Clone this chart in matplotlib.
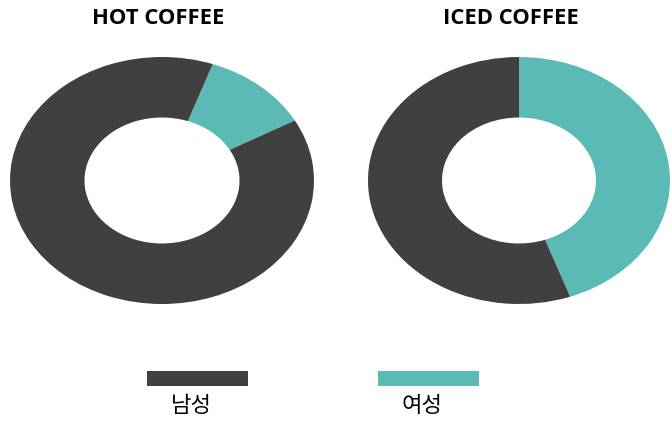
import matplotlib.pyplot as plt
from matplotlib.patches import Rectangle

# share of male / female per drink (percent)
labels = ['남성', '여성']
colors = ['#404040', '#5cbab6']
titles = ['HOT COFFEE', 'ICED COFFEE']
hot = [88.5, 11.5]
iced = [55.5, 44.5]

W, H = 670, 434
fig = plt.figure(figsize=(W / 100, H / 100), dpi=100)

def px_axes(x0, y0, x1, y1):
    # axes from pixel box (top-left origin)
    return fig.add_axes([x0 / W, (H - y1) / H, (x1 - x0) / W, (y1 - y0) / H])

# left donut, female slice starts ~20 deg right of top
ax1 = px_axes(10, 57, 314, 304)
ax1.pie(hot[::-1], colors=colors[::-1], startangle=70.5, counterclock=False,
        radius=1, wedgeprops=dict(width=0.49, linewidth=0))
ax1.set_xlim(-1, 1)
ax1.set_ylim(-1, 1)
ax1.set_aspect('auto')

ax2 = px_axes(368, 57, 670, 304)
ax2.pie(iced[::-1], colors=colors[::-1], startangle=90, counterclock=False,
        radius=1, wedgeprops=dict(width=0.49, linewidth=0))
ax2.set_xlim(-1, 1)
ax2.set_ylim(-1, 1)
ax2.set_aspect('auto')

# titles
fig.text(158 / W, 1 - 19 / H, titles[0], ha='center', va='center',
         fontsize=15.8, fontweight='bold', family='Open Sans')
fig.text(511 / W, 1 - 18 / H, titles[1], ha='center', va='center',
         fontsize=15.8, fontweight='bold', family='Open Sans')

# legend bars + labels
lax = fig.add_axes([0, 0, 1, 1])
lax.set_xlim(0, W)
lax.set_ylim(H, 0)
lax.axis('off')
for i, (lab, c) in enumerate(zip(labels, colors)):
    x0 = 147 + i * 231
    lax.add_patch(Rectangle((x0, 371), 101, 15, color=c, lw=0))
    lax.text(x0 + 44, 406, lab, ha='center', va='center', fontsize=16,
             family='Noto Sans CJK KR')

fig.savefig('out.png', dpi=100)
